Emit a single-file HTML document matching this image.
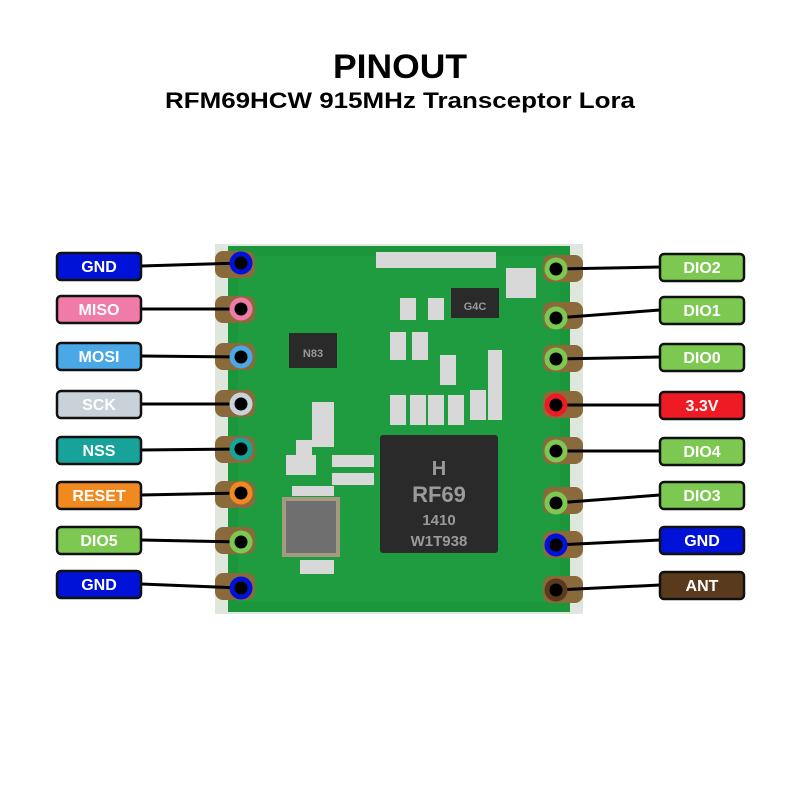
<!DOCTYPE html>
<html><head><meta charset="utf-8"><style>
html,body{margin:0;padding:0;background:#fff;}
svg{display:block;}
text{font-family:"Liberation Sans",sans-serif;font-weight:bold;}
</style></head><body>
<svg width="800" height="800" viewBox="0 0 800 800" xmlns="http://www.w3.org/2000/svg">
<rect width="800" height="800" fill="#fff"/>
<text x="400" y="78" text-anchor="middle" font-size="34" fill="#000" textLength="134" lengthAdjust="spacingAndGlyphs">PINOUT</text>
<text x="400" y="108" text-anchor="middle" font-size="22" fill="#000" textLength="470" lengthAdjust="spacingAndGlyphs">RFM69HCW 915MHz Transceptor Lora</text>

<!-- board -->
<rect x="215" y="244" width="368" height="370" fill="#dfe6de"/>
<rect x="228" y="246" width="342" height="366" fill="#1c963a"/>
<rect x="238" y="256" width="322" height="346" fill="#22a243" opacity="0.5"/>
<!-- castellation pads -->
<g fill="#8a6a3a">
<rect x="215" y="251" width="40" height="27" rx="8"/><rect x="215" y="296" width="40" height="27" rx="8"/>
<rect x="215" y="343" width="40" height="27" rx="8"/><rect x="215" y="390" width="40" height="27" rx="8"/>
<rect x="215" y="436" width="40" height="27" rx="8"/><rect x="215" y="481" width="40" height="27" rx="8"/>
<rect x="215" y="527" width="40" height="27" rx="8"/><rect x="215" y="573" width="40" height="27" rx="8"/>
<rect x="543" y="255" width="40" height="27" rx="8"/><rect x="543" y="302" width="40" height="27" rx="8"/>
<rect x="543" y="345" width="40" height="27" rx="8"/><rect x="543" y="391" width="40" height="27" rx="8"/>
<rect x="543" y="437" width="40" height="27" rx="8"/><rect x="543" y="487" width="40" height="27" rx="8"/>
<rect x="543" y="531" width="40" height="27" rx="8"/><rect x="543" y="576" width="40" height="27" rx="8"/>
</g>
<!-- components -->
<g fill="#2a2a2a">
<rect x="380" y="435" width="118" height="118" rx="3"/>
<rect x="289" y="333" width="48" height="35"/>
<rect x="451" y="288" width="48" height="30"/>
</g>
<rect x="282" y="497" width="58" height="60" fill="#a39a80"/>
<rect x="286" y="501" width="50" height="52" fill="#6f6f6f"/>
<g fill="#d8d8d8">
<rect x="376" y="252" width="120" height="16"/>
<rect x="400" y="298" width="16" height="22"/><rect x="428" y="298" width="16" height="22"/>
<rect x="390" y="332" width="16" height="28"/><rect x="412" y="332" width="16" height="28"/>
<rect x="390" y="395" width="16" height="30"/><rect x="410" y="395" width="16" height="30"/><rect x="428" y="395" width="16" height="30"/><rect x="448" y="395" width="16" height="30"/>
<rect x="440" y="355" width="16" height="30"/><rect x="470" y="390" width="16" height="30"/><rect x="488" y="350" width="14" height="70"/>
<rect x="296" y="440" width="16" height="24"/><rect x="312" y="402" width="22" height="45"/><rect x="286" y="455" width="30" height="20"/>
<rect x="300" y="560" width="34" height="14"/><rect x="506" y="268" width="30" height="30"/>
<rect x="332" y="455" width="42" height="12"/><rect x="332" y="473" width="42" height="12"/><rect x="292" y="486" width="42" height="10"/>
</g>
<text x="439" y="475" text-anchor="middle" font-size="20" fill="#9a9a9a">H</text>
<text x="439" y="502" text-anchor="middle" font-size="22" font-weight="normal" fill="#9a9a9a">RF69</text>
<text x="439" y="525" text-anchor="middle" font-size="15" font-weight="normal" fill="#9a9a9a">1410</text>
<text x="439" y="546" text-anchor="middle" font-size="15" font-weight="normal" fill="#9a9a9a">W1T938</text>
<text x="313" y="357" text-anchor="middle" font-size="11" font-weight="normal" fill="#999">N83</text>
<text x="475" y="310" text-anchor="middle" font-size="11" font-weight="normal" fill="#999">G4C</text>

<!-- connector lines -->
<g stroke="#000" stroke-width="3">
<line x1="141" y1="266" x2="241" y2="263"/><line x1="141" y1="309" x2="241" y2="309"/>
<line x1="141" y1="356" x2="241" y2="357"/><line x1="141" y1="404" x2="241" y2="404"/>
<line x1="141" y1="450" x2="241" y2="449"/><line x1="141" y1="495" x2="241" y2="493"/>
<line x1="141" y1="540" x2="241" y2="542"/><line x1="141" y1="584" x2="241" y2="588"/>
<line x1="556" y1="269" x2="660" y2="267"/><line x1="556" y1="318" x2="660" y2="310"/>
<line x1="556" y1="359" x2="660" y2="357"/><line x1="556" y1="405" x2="660" y2="405"/>
<line x1="556" y1="451" x2="660" y2="451"/><line x1="556" y1="503" x2="660" y2="495"/>
<line x1="556" y1="545" x2="660" y2="540"/><line x1="556" y1="590" x2="660" y2="585"/>
</g>
<!-- pins -->
<g stroke-width="5">
<circle cx="241" cy="263" r="9" fill="#000" stroke="#0012d8"/>
<circle cx="241" cy="309" r="9" fill="#000" stroke="#f07aa8"/>
<circle cx="241" cy="357" r="9" fill="#000" stroke="#4aa8e6"/>
<circle cx="241" cy="404" r="9" fill="#000" stroke="#c8d2d8"/>
<circle cx="241" cy="449" r="9" fill="#000" stroke="#17a39a"/>
<circle cx="241" cy="493" r="9" fill="#000" stroke="#f08a20"/>
<circle cx="241" cy="542" r="9" fill="#000" stroke="#7cc850"/>
<circle cx="241" cy="588" r="9" fill="#000" stroke="#0012d8"/>
<circle cx="556" cy="269" r="9" fill="#000" stroke="#7cc850"/>
<circle cx="556" cy="318" r="9" fill="#000" stroke="#7cc850"/>
<circle cx="556" cy="359" r="9" fill="#000" stroke="#7cc850"/>
<circle cx="556" cy="405" r="9" fill="#000" stroke="#ee1b24"/>
<circle cx="556" cy="451" r="9" fill="#000" stroke="#7cc850"/>
<circle cx="556" cy="503" r="9" fill="#000" stroke="#7cc850"/>
<circle cx="556" cy="545" r="9" fill="#000" stroke="#0012d8"/>
<circle cx="556" cy="590" r="9" fill="#000" stroke="#5a3a1c"/>
</g>
<!-- labels -->
<g stroke="#111" stroke-width="2.5">
<rect x="57" y="253" width="84" height="27" rx="4" fill="#0012d8"/>
<rect x="57" y="296" width="84" height="27" rx="4" fill="#f07aa8"/>
<rect x="57" y="343" width="84" height="27" rx="4" fill="#4aa8e6"/>
<rect x="57" y="391" width="84" height="27" rx="4" fill="#c8d2d8"/>
<rect x="57" y="437" width="84" height="27" rx="4" fill="#17a39a"/>
<rect x="57" y="482" width="84" height="27" rx="4" fill="#f08a20"/>
<rect x="57" y="527" width="84" height="27" rx="4" fill="#7cc850"/>
<rect x="57" y="571" width="84" height="27" rx="4" fill="#0012d8"/>
<rect x="660" y="254" width="84" height="27" rx="4" fill="#7cc850"/>
<rect x="660" y="297" width="84" height="27" rx="4" fill="#7cc850"/>
<rect x="660" y="344" width="84" height="27" rx="4" fill="#7cc850"/>
<rect x="660" y="392" width="84" height="27" rx="4" fill="#ee1b24"/>
<rect x="660" y="438" width="84" height="27" rx="4" fill="#7cc850"/>
<rect x="660" y="482" width="84" height="27" rx="4" fill="#7cc850"/>
<rect x="660" y="527" width="84" height="27" rx="4" fill="#0012d8"/>
<rect x="660" y="572" width="84" height="27" rx="4" fill="#5a3a1c"/>
</g>
<g fill="#fff" font-size="16" text-anchor="middle">
<text x="99" y="272">GND</text><text x="99" y="315">MISO</text><text x="99" y="362">MOSI</text>
<text x="99" y="410">SCK</text><text x="99" y="456">NSS</text><text x="99" y="501">RESET</text>
<text x="99" y="546">DIO5</text><text x="99" y="590">GND</text>
<text x="702" y="273">DIO2</text><text x="702" y="316">DIO1</text><text x="702" y="363">DIO0</text>
<text x="702" y="411">3.3V</text><text x="702" y="457">DIO4</text><text x="702" y="501">DIO3</text>
<text x="702" y="546">GND</text><text x="702" y="591">ANT</text>
</g>
</svg>
</body></html>
